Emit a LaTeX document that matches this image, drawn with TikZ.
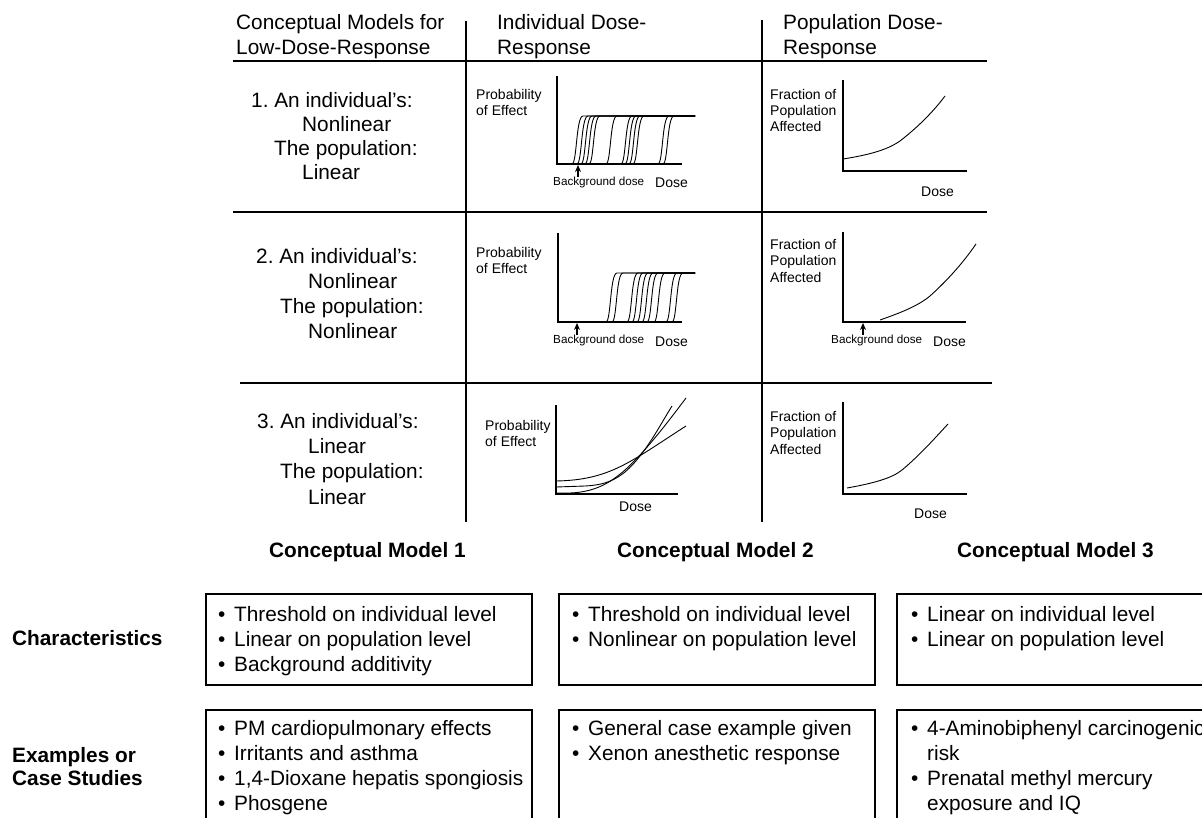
\documentclass[tikz,border=0pt]{standalone}
\usepackage{fontspec}
\setmainfont{Liberation Sans}
\usetikzlibrary{arrows.meta}
\frenchspacing
\newcommand\mainsz{\fontsize{20.8}{25}\selectfont}
\newcommand\labsz{\fontsize{14}{16}\selectfont}
\newcommand\smallsz{\fontsize{11.7}{14}\selectfont}
\newcommand\blt{\makebox[16pt][l]{\textbullet}}
\newcommand\nob{\hspace*{16pt}}
\begin{document}
\begin{tikzpicture}[x=1pt,y=-1pt,
  txt/.style={anchor=base west, inner sep=0pt, font=\mainsz},
  head/.style={anchor=base west, inner sep=0pt, font=\mainsz\bfseries},
  lab/.style={anchor=base west, inner sep=0pt, font=\labsz},
  bglab/.style={anchor=base west, inner sep=0pt, font=\smallsz},
  rule/.style={line width=1.3pt},
  axis/.style={line width=1.3pt},
  curve/.style={line width=0.9pt},
  panel/.style={draw, line width=1.7pt, anchor=north west, inner sep=0pt},
  bgarrow/.style={-{Stealth[length=7pt,width=6pt]}, line width=1.4pt}
]
\useasboundingbox (0,0) rectangle (1202,818);

% ---------- table grid ----------
\draw[rule] (233,61) -- (987,61);
\draw[rule] (233,212) -- (987,212);
\draw[rule] (240,383) -- (992,383);
\draw[rule] (466,21) -- (466,522);
\draw[rule] (762,20) -- (762,522);

% ---------- column headers ----------
\node[txt] (h1a) at (236,30) {Conceptual Models for};
\node[txt] (h1b) at (236,55) {Low-Dose-Response};
\node[txt] (h2a) at (497,30) {Individual Dose-};
\node[txt] (h2b) at (497,55) {Response};
\node[txt] (h3a) at (783,30) {Population Dose-};
\node[txt] (h3b) at (783,55) {Response};

% ---------- row descriptions ----------
\node[txt] (r1a) at (251,108) {1. An individual’s:};
\node[txt] (r1b) at (302,132) {Nonlinear};
\node[txt] (r1c) at (274,156) {The population:};
\node[txt] (r1d) at (302,180) {Linear};

\node[txt] (r2a) at (256,264) {2. An individual’s:};
\node[txt] (r2b) at (308,289) {Nonlinear};
\node[txt] (r2c) at (280,313) {The population:};
\node[txt] (r2d) at (308,338) {Nonlinear};

\node[txt] (r3a) at (257,428) {3. An individual’s:};
\node[txt] (r3b) at (308,453) {Linear};
\node[txt] (r3c) at (280,478) {The population:};
\node[txt] (r3d) at (308,504) {Linear};

% ---------- row 1: individual curves ----------
\draw[axis] (557,76) -- (557,164) -- (682,164);
\foreach \m in {578,583,587,591,595,612,627,631,635,639,664,669}
  \draw[curve] (\m-6,164) .. controls (\m-1,164) and (\m-2,116) .. (\m+5,116) -- (695,116);
\draw[bgarrow] (578,177) -- (578,165);
\node[lab] (p1a) at (476,100) {Probability};
\node[lab] (p1b) at (476,115.5) {of Effect};
\node[bglab] (bg1) at (553,186) {Background dose};
\node[lab] (d1) at (655,188) {Dose};

% ---------- row 1: population curve ----------
\draw[axis] (843,80) -- (843,171) -- (967,171);
\draw[curve] (843,159) .. controls (875,154) and (890,148) .. (900,141)
  .. controls (918,127) and (933,112) .. (945,96);
\node[lab] (f1a) at (770,99.5) {Fraction of};
\node[lab] (f1b) at (770,115.5) {Population};
\node[lab] (f1c) at (770,131.5) {Affected};
\node[lab] (d2) at (921,197) {Dose};

% ---------- row 2: individual curves ----------
\draw[axis] (558,233) -- (558,322) -- (682,322);
\foreach \m in {612,618,633,638,643,648,653,660,672,678}
  \draw[curve] (\m-6,322) .. controls (\m-1,322) and (\m-2,273) .. (\m+5,273) -- (695,273);
\draw[bgarrow] (577,335) -- (577,323);
\node[lab] (p2a) at (476,257.5) {Probability};
\node[lab] (p2b) at (476,273.5) {of Effect};
\node[bglab] (bg2) at (553,344) {Background dose};
\node[lab] (d3) at (655,346) {Dose};

% ---------- row 2: population curve ----------
\draw[axis] (843,232) -- (843,322) -- (966,322);
\draw[curve] (880,320) .. controls (900,313) and (918,306) .. (930,296)
  .. controls (950,278) and (965,260) .. (976,244);
\draw[bgarrow] (863,335) -- (863,323);
\node[lab] (f2a) at (770,250) {Fraction of};
\node[lab] (f2b) at (770,266) {Population};
\node[lab] (f2c) at (770,283) {Affected};
\node[bglab] (bg3) at (831,343) {Background dose};
\node[lab] (d4) at (933,346) {Dose};

% ---------- row 3: individual curves ----------
\draw[axis] (556,405) -- (556,494) -- (678,494);
\draw[curve] (556,481) .. controls (610,480) and (630,462) .. (686,426);
\draw[curve] (556,487) -- (585,486) .. controls (605,485) and (615,480) .. (625,472)
  .. controls (645,455) and (660,425) .. (672,406);
\draw[curve] (556,493) -- (570,493) .. controls (595,492) and (610,483) .. (625,470)
  .. controls (645,452) and (668,422) .. (686,398);
\node[lab] (p3a) at (485,430) {Probability};
\node[lab] (p3b) at (485,446) {of Effect};
\node[lab] (d5) at (619,511) {Dose};

% ---------- row 3: population curve ----------
\draw[axis] (843,402) -- (843,494) -- (967,494);
\draw[curve] (847,488) .. controls (875,483) and (892,478) .. (902,470)
  .. controls (920,455) and (935,438) .. (948,424);
\node[lab] (f3a) at (770,421.5) {Fraction of};
\node[lab] (f3b) at (770,437.5) {Population};
\node[lab] (f3c) at (770,454) {Affected};
\node[lab] (d6) at (914,518) {Dose};

% ---------- summary section ----------
\node[head] (m1) at (269,557) {Conceptual Model 1};
\node[head] (m2) at (617,557) {Conceptual Model 2};
\node[head] (m3) at (957,557) {Conceptual Model 3};
\node[head] (chr) at (12,645) {Characteristics};
\node[head] (exa) at (12,762) {Examples or};
\node[head] (exb) at (12,785) {Case Studies};

\node[panel, minimum width=326pt, minimum height=91pt] (b11) at (205,593) {};
\node[panel, minimum width=316pt, minimum height=91pt] (b12) at (558,593) {};
\node[panel, minimum width=330pt, minimum height=91pt] (b13) at (896,593) {};
\node[panel, minimum width=326pt, minimum height=140pt] (b21) at (205,709) {};
\node[panel, minimum width=316pt, minimum height=140pt] (b22) at (558,709) {};
\node[panel, minimum width=330pt, minimum height=140pt] (b23) at (896,709) {};

\foreach \s [count=\i] in {Threshold on individual level, Linear on population level, Background additivity}
  \node[txt] (a1\i) at (218,596+25*\i) {\blt\s};
\foreach \s [count=\i] in {Threshold on individual level, Nonlinear on population level}
  \node[txt] (a2\i) at (572,596+25*\i) {\blt\s};
\foreach \s [count=\i] in {Linear on individual level, Linear on population level}
  \node[txt] (a3\i) at (911,596+25*\i) {\blt\s};

\foreach \s [count=\i] in {PM cardiopulmonary effects, Irritants and asthma, {1,4-Dioxane hepatis spongiosis}, Phosgene}
  \node[txt] (e1\i) at (218,710+25*\i) {\blt\s};
\foreach \s [count=\i] in {General case example given, Xenon anesthetic response}
  \node[txt] (e2\i) at (572,710+25*\i) {\blt\s};
\foreach \s [count=\i] in {\blt 4-Aminobiphenyl carcinogenic, \nob risk, \blt Prenatal methyl mercury, \nob exposure and IQ}
  \node[txt] (e3\i) at (911,710+25*\i) {\s};
\end{tikzpicture}
\end{document}
